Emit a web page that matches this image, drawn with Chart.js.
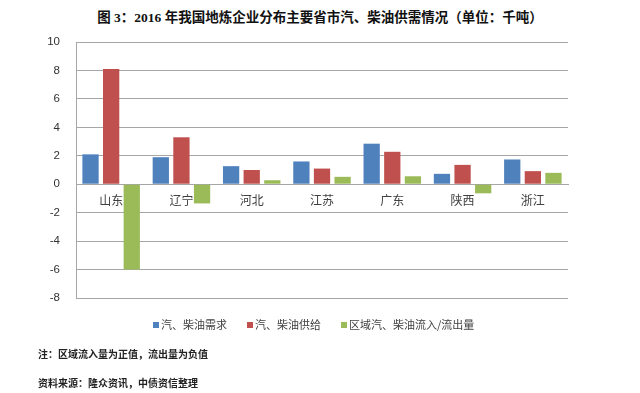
<!DOCTYPE html>
<html>
<head>
<meta charset="utf-8">
<script src="https://cdn.jsdelivr.net/npm/chart.js@4/dist/chart.umd.min.js"></script>
<style>
  html, body { margin: 0; padding: 0; background: #fff; }
  #wrap { position: relative; width: 640px; height: 393px; overflow: hidden; }
  #chart { position: absolute; left: 0; top: 0; }
  .title {
    position: absolute; left: 0; width: 640px; top: 6px; text-align: center;
    font: bold 13.5px "Liberation Serif", "Noto Sans CJK SC", serif; color: #111;
  }
  .legend {
    position: absolute; left: 153px; top: 316px; font: 11px "Noto Sans CJK SC", sans-serif; color: #404040;
    white-space: nowrap;
  }
  .legend span.item { display: inline-block; width: 94px; }
  .legend span.item:last-child { width: auto; }
  .legend i { display: inline-block; width: 6px; height: 6px; margin-right: 2px; vertical-align: 1px; }
  .note {
    position: absolute; left: 38px; font: bold 10px "Noto Sans CJK SC", sans-serif; color: #222;
  }
</style>
</head>
<body>
<div id="wrap">
  <div class="title">图 3：2016 年我国地炼企业分布主要省市汽、柴油供需情况（单位：千吨）</div>
  <canvas id="chart" width="640" height="393"></canvas>
  <div class="legend" id="legend"></div>
  <div class="note" style="top:346px">注：区域流入量为正值，流出量为负值</div>
  <div class="note" style="top:375px">资料来源：隆众资讯，中债资信整理</div>
</div>
<script>
// provinces
const provinces = ['山东', '辽宁', '河北', '江苏', '广东', '陕西', '浙江'];

// thousand tonnes
const demand = [2.1, 1.9, 1.27, 1.6, 2.85, 0.73, 1.74];
const supply = [8.1, 3.3, 1.0, 1.1, 2.28, 1.36, 0.92];
const netFlow = [-6.0, -1.35, 0.28, 0.52, 0.56, -0.64, 0.8];

const seriesNames = ['汽、柴油需求', '汽、柴油供给', '区域汽、柴油流入/流出量'];
const seriesColors = ['#4F81BD', '#C0504D', '#9BBB59'];

const gridColor = '#a6a6a6';

const datasets = [demand, supply, netFlow].map((values, i) => ({
  label: seriesNames[i],
  data: values,
  backgroundColor: seriesColors[i],
  borderWidth: 0,
  barPercentage: 0.79,
  categoryPercentage: 0.88
}));

document.getElementById('legend').innerHTML = seriesNames.reduce((acc, name, i) => {
  acc += `<span class="item"><i style="background:${seriesColors[i]}"></i>${name}</span>`;
  return acc;
}, '');

const ctx = document.getElementById('chart').getContext('2d');
new Chart(ctx, {
  type: 'bar',
  data: {
    labels: provinces,
    datasets: datasets
  },
  options: {
    responsive: false,
    animation: false,
    layout: {
      padding: { left: 0, top: 42, right: 72, bottom: 95 }
    },
    plugins: {
      legend: { display: false },
      title: { display: false },
      tooltip: { enabled: false }
    },
    scales: {
      x: {
        position: { y: 0 },
        grid: { display: false, drawTicks: false },
        border: { display: true, color: gridColor, width: 1 },
        ticks: {
          padding: 9,
          color: '#404040',
          font: { family: '"Noto Sans CJK SC", sans-serif', size: 12 }
        }
      },
      y: {
        min: -8,
        max: 10,
        afterFit: (scale) => { scale.width = 76; },
        grid: { color: gridColor, lineWidth: 1, drawTicks: false },
        border: { display: true, color: gridColor, width: 1 },
        ticks: {
          stepSize: 2,
          padding: 16,
          color: '#333',
          font: { family: '"Liberation Sans", Arial, sans-serif', size: 11.5 }
        }
      }
    }
  }
});
</script>
</body>
</html>
